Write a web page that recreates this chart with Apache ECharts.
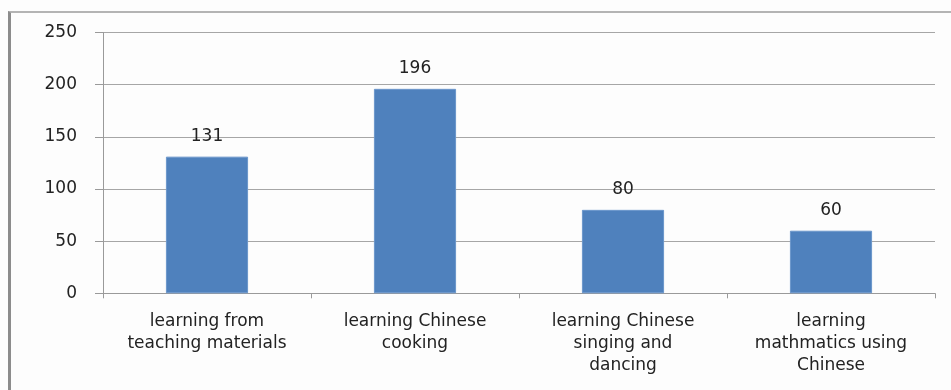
<!DOCTYPE html>
<html>
<head>
<meta charset="utf-8">
<script src="https://cdn.jsdelivr.net/npm/echarts@6/dist/echarts.min.js"></script>
<style>
  html, body { margin: 0; padding: 0; background: #fdfdfd; }
  #wrap { position: relative; width: 951px; height: 390px; overflow: hidden; }
  #chart { position: absolute; left: 0; top: 0; width: 951px; height: 390px; }
  #frame {
    position: absolute; left: 8px; top: 11px; width: 960px; height: 400px;
    border-top: 2px solid #b4b4b4; border-left: 3px solid #8c8c8c;
    pointer-events: none;
  }
</style>
</head>
<body>
<div id="wrap">
  <div id="chart"></div>
  <div id="frame"></div>
</div>
<script>
// Activity categories (multi-line labels) and respondent counts
const categories = [
  'learning from\nteaching materials',
  'learning Chinese\ncooking',
  'learning Chinese\nsinging and\ndancing',
  'learning\nmathmatics using\nChinese'
];
const counts = [131, 196, 80, 60];
const yTicks = [0, 50, 100, 150, 200, 250];

const font = 'DejaVu Sans';
const chart = echarts.init(document.getElementById('chart'), null, { renderer: 'canvas' });

chart.setOption({
  backgroundColor: 'transparent',
  animation: false,
  grid: { left: 103, right: 16, top: 32.5, bottom: 96.7, containLabel: false },
  xAxis: {
    type: 'category',
    data: categories,
    axisLine: { show: true, lineStyle: { color: '#9a9a9a', width: 1 } },
    axisTick: { show: true, alignWithLabel: false, length: 5, lineStyle: { color: '#9a9a9a' } },
    axisLabel: {
      interval: 0,
      margin: 17,
      color: '#222',
      fontFamily: font,
      fontSize: 17,
      lineHeight: 22,
      align: 'center'
    }
  },
  yAxis: {
    type: 'value',
    min: yTicks[0],
    max: yTicks[yTicks.length - 1],
    interval: yTicks[1] - yTicks[0],
    axisLine: { show: true, lineStyle: { color: '#9a9a9a', width: 1 } },
    axisTick: { show: true, length: 8, lineStyle: { color: '#9a9a9a' } },
    splitLine: { show: true, lineStyle: { color: '#a6a6a6', width: 1 } },
    axisLabel: {
      margin: 26,
      color: '#222',
      fontFamily: font,
      fontSize: 17
    }
  },
  series: [{
    type: 'bar',
    data: counts,
    barWidth: '39.5%',
    itemStyle: { color: '#4f81bd', borderColor: '#6b96cb', borderWidth: 1 },
    label: {
      show: true,
      position: 'top',
      distance: 12,
      color: '#222',
      fontFamily: font,
      fontSize: 17
    }
  }]
});
</script>
</body>
</html>
